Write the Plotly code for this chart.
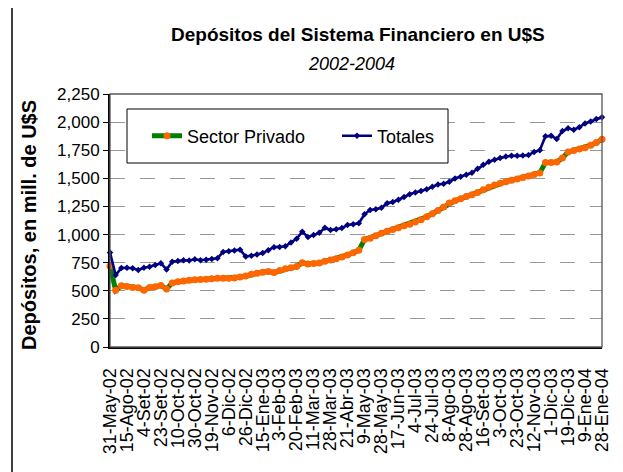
import plotly.graph_objects as go

# Tick labels (category axis, one label every 3 points)
tick_labels = ["31-May-02", "15-Ago-02", "4-Set-02", "23-Set-02", "10-Oct-02", "30-Oct-02",
               "19-Nov-02", "6-Dic-02", "26-Dic-02", "15-Ene-03", "3-Feb-03", "20-Feb-03",
               "11-Mar-03", "28-Mar-03", "21-Abr-03", "9-May-03", "28-May-03", "17-Jun-03",
               "4-Jul-03", "24-Jul-03", "8-Ago-03", "28-Ago-03", "16-Set-03", "3-Oct-03",
               "23-Oct-03", "12-Nov-03", "1-Dic-03", "19-Dic-03", "9-Ene-04", "28-Ene-04"]

# Totales (mill. U$S)
totales = [840, 640, 702, 705, 700, 685, 705, 714, 730, 745,
           690, 759, 765, 772, 770, 780, 772, 776, 782, 790,
           845, 852, 858, 865, 805, 812, 822, 835, 860, 888,
           890, 895, 930, 962, 1025, 978, 995, 1015, 1060, 1040,
           1048, 1058, 1085, 1092, 1100, 1180, 1218, 1225, 1238, 1278,
           1290, 1310, 1335, 1358, 1375, 1388, 1402, 1425, 1445, 1452,
           1470, 1498, 1515, 1532, 1550, 1585, 1620, 1648, 1665, 1680,
           1695, 1700, 1700, 1702, 1707, 1735, 1750, 1875, 1878, 1850,
           1920, 1945, 1932, 1955, 1988, 2005, 2028, 2043]

# Sector Privado (mill. U$S)
privado = [720, 505, 545, 538, 530, 528, 505, 530, 536, 548,
           515, 570, 580, 588, 593, 598, 600, 603, 608, 611,
           612, 612, 614, 622, 632, 648, 655, 665, 672, 662,
           680, 695, 705, 715, 750, 738, 742, 748, 762, 774,
           785, 800, 818, 838, 860, 955, 967, 990, 1012, 1030,
           1045, 1060, 1078, 1092, 1112, 1132, 1158, 1185, 1215, 1245,
           1280, 1300, 1318, 1338, 1355, 1375, 1398, 1420, 1440, 1456,
           1470, 1483, 1494, 1508, 1520, 1533, 1548, 1640, 1640, 1645,
           1680, 1735, 1748, 1760, 1772, 1795, 1818, 1847]

y_ticks = [0, 250, 500, 750, 1000, 1250, 1500, 1750, 2000, 2250]

step = 3
x = list(range(len(totales)))
tick_pos = [i * step for i in range(len(tick_labels))]

FONT = "Liberation Sans, Arial, sans-serif"

fig = go.Figure()
fig.add_trace(go.Scatter(
    x=x, y=privado, name="Sector Privado", mode="lines+markers",
    line=dict(color="#008000", width=5),
    marker=dict(color="#FF6600", size=7, symbol="circle", line=dict(width=0)),
    cliponaxis=False))
fig.add_trace(go.Scatter(
    x=x, y=totales, name="Totales", mode="lines+markers",
    line=dict(color="#000080", width=2.6),
    marker=dict(color="#000080", size=5, symbol="diamond", line=dict(width=0)),
    cliponaxis=False))

# page has an 8px body margin: the figure is drawn 8px right and down
OFF = 8
W, H = 623 - OFF, 472 - OFF
L, R, T, B = 110, 602, 94, 347  # plot area in screenshot pixels


def px(xp):
    return (xp - L) / (R - L)


def py(yp):
    return (B - yp) / (B - T)


fig.update_layout(
    width=W, height=H,
    margin=dict(l=L - OFF, r=W - (R - OFF), t=T - OFF, b=H - (B - OFF), autoexpand=False),
    paper_bgcolor="white", plot_bgcolor="white",
    font=dict(family=FONT, color="black", size=17),
    showlegend=True,
    legend=dict(orientation="h", x=px(147), y=py(136), xanchor="left", yanchor="middle",
                bgcolor="rgba(0,0,0,0)", borderwidth=0,
                font=dict(size=18, family=FONT),
                entrywidth=145, entrywidthmode="pixels", itemsizing="trace"),
    xaxis=dict(range=[0, len(totales) - 1], tickmode="array", tickvals=tick_pos, ticktext=tick_labels,
               tickangle=-90, showgrid=False, zeroline=False, showline=True, linecolor="black",
               linewidth=2, ticks="", ticklabelstandoff=12, automargin=False,
               tickfont=dict(size=18, family=FONT)),
    yaxis=dict(range=[0, 2250], tickmode="array", tickvals=y_ticks, tickformat=",d",
               showgrid=True, gridcolor="#999999", gridwidth=1, griddash="15px,15px",
               zeroline=False, showline=True, linecolor="black", linewidth=2,
               ticks="outside", ticklen=5, tickcolor="black", tickwidth=1,
               automargin=False, tickfont=dict(size=17, family=FONT)),
    shapes=[
        # plot area frame
        dict(type="rect", xref="paper", yref="paper", x0=0, x1=1, y0=0, y1=1,
             line=dict(color="#555555", width=1.3), layer="above"),
        # legend box
        dict(type="rect", xref="paper", yref="paper", x0=px(127), x1=px(448), y0=py(163), y1=py(109),
             line=dict(color="black", width=1), fillcolor="white", layer="above"),
        # chart area border (left and top)
        dict(type="line", xref="paper", yref="paper", x0=px(12), x1=px(12), y0=py(7), y1=py(480),
             line=dict(color="black", width=1.5)),
        dict(type="line", xref="paper", yref="paper", x0=px(12), x1=px(640), y0=py(7), y1=py(7),
             line=dict(color="black", width=1.5)),
    ],
    annotations=[
        dict(text="<b>Depósitos del Sistema Financiero en U$S</b>", xref="paper", yref="paper",
             x=px(358), y=py(34), xanchor="center", yanchor="middle", showarrow=False,
             font=dict(size=19, family=FONT)),
        dict(text="<i>2002-2004</i>", xref="paper", yref="paper",
             x=px(351), y=py(64), xanchor="center", yanchor="middle", showarrow=False,
             font=dict(size=18, family=FONT)),
        dict(text="<b>Depósitos, en mill. de U$S</b>", xref="paper", yref="paper",
             x=px(29), y=py(225), xanchor="center", yanchor="middle", showarrow=False,
             textangle=-90, font=dict(size=20, family=FONT)),
    ],
)

fig.write_html("out.html")
